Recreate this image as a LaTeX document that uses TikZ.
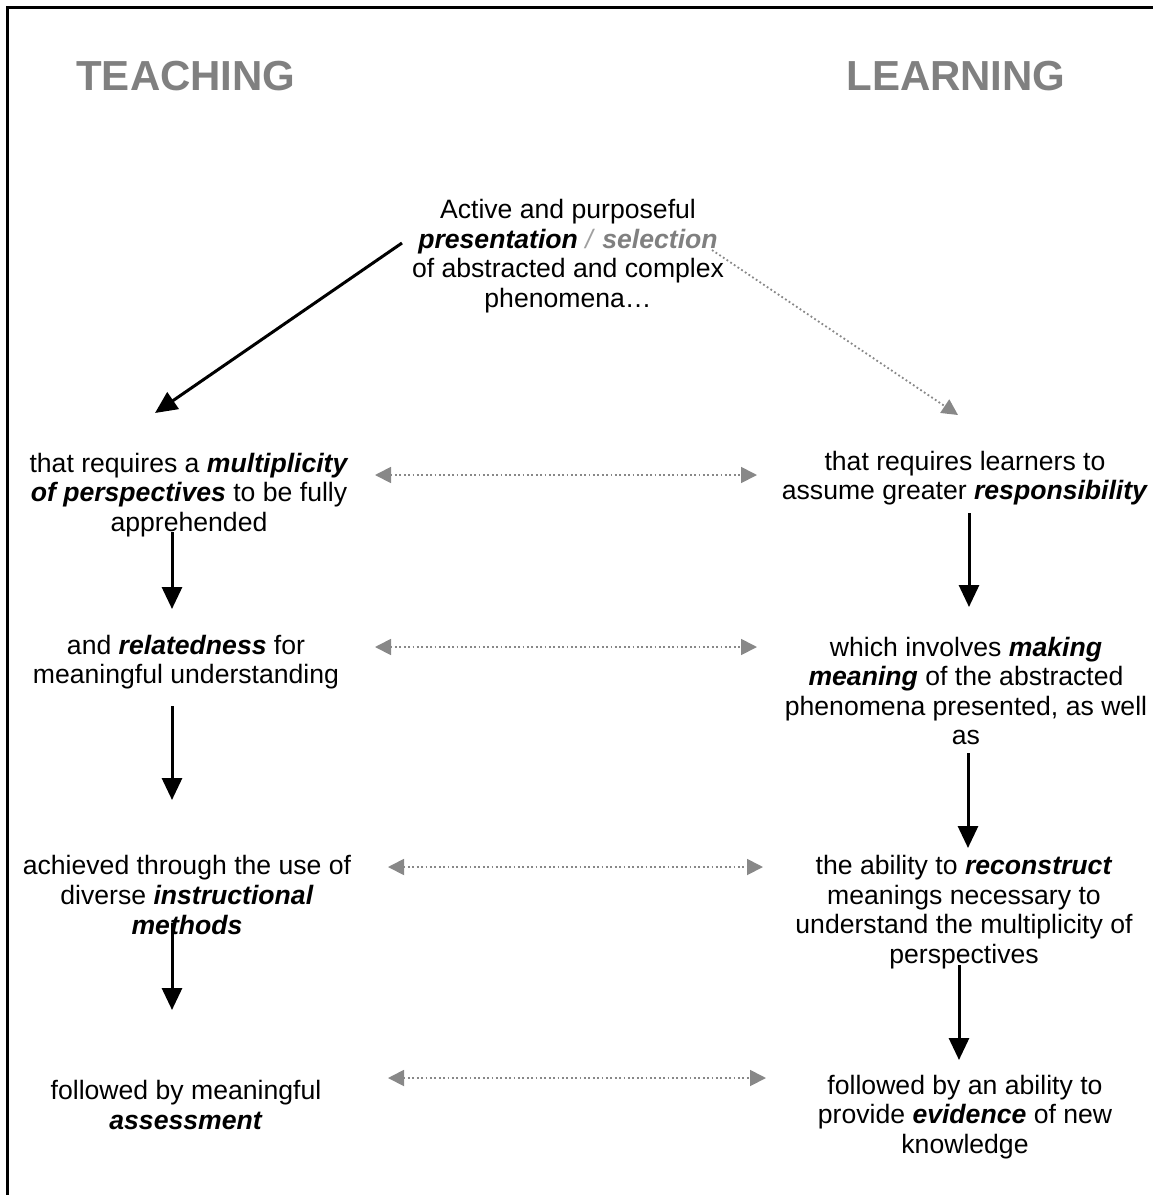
\documentclass[tikz,border=0pt]{standalone}
\usepackage{fontspec}
\setmainfont{Liberation Sans}
\usetikzlibrary{arrows.meta}
\definecolor{hgray}{HTML}{808080}
\definecolor{sgray}{HTML}{A0A0A0}
\definecolor{agray}{HTML}{888888}
\newcommand{\bi}[1]{\textbf{\textit{#1}}}
\begin{document}
\begin{tikzpicture}[x=0.5pt,y=-0.5pt,
 txt/.style={align=center, font=\fontsize{13.3}{14.8}\selectfont, inner sep=0pt},
 head/.style={font=\bfseries\fontsize{21}{24}\selectfont, text=hgray, inner sep=0pt},
 mainarrow/.style={line width=1.5pt, -{Triangle[length=11pt,width=10pt]}},
 linkline/.style={agray, line width=0.9pt, dash pattern=on 0.9pt off 1.3pt},
 linkarrow/.style={linkline, {Triangle[length=8pt,width=8pt]}-{Triangle[length=8pt,width=8pt]}},
 onearrow/.style={linkline, -{Triangle[length=8pt,width=8pt]}}
]
\useasboundingbox (0,0) rectangle (1153,1195);
\draw[line width=1.5pt] (7,1195) -- (7,7) -- (1153,7);

\node[head] (teach) at (186,76) {TEACHING};
\node[head] (learn) at (956,76) {LEARNING};

\node[txt] (top) at (568,256) {Active and purposeful\\ \bi{presentation} \textcolor{sgray}{\textit{/}} \textcolor{hgray}{\bi{selection}}\\ of abstracted and complex\\ phenomena…};

\node[txt] (l1) at (189,495) {that requires a \bi{multiplicity}\\ \bi{of perspectives} to be fully\\ apprehended};
\node[txt] (l2) at (186,662) {and \bi{relatedness} for\\ meaningful understanding};
\node[txt] (l3) at (187,895) {achieved through the use of\\ diverse \bi{instructional}\\ \bi{methods}};
\node[txt] (l4) at (186,1105) {followed by meaningful\\ \bi{assessment}};

\node[txt] (r1) at (965,478) {that requires learners to\\ assume greater \bi{responsibility}};
\node[txt] (r2) at (966,691) {which involves \bi{making}\\ \bi{meaning} of the abstracted\\ phenomena presented, as well\\ as};
\node[txt] (r3) at (964,912) {the ability to \bi{reconstruct}\\ meanings necessary to\\ understand the multiplicity of\\ perspectives};
\node[txt] (r4) at (965,1117) {followed by an ability to\\ provide \bi{evidence} of new\\ knowledge};

% arrow end points
\coordinate (dA) at (402,243); \coordinate (dB) at (155,413);
\coordinate (gA) at (712,250); \coordinate (gB) at (958,415);
\coordinate (h1a) at (375,475); \coordinate (h1b) at (757,475);
\coordinate (h2a) at (375,647); \coordinate (h2b) at (757,647);
\coordinate (h3a) at (388,867); \coordinate (h3b) at (763,867);
\coordinate (h4a) at (388,1078); \coordinate (h4b) at (766,1078);
\coordinate (v1a) at (172,532); \coordinate (v1b) at (172,609);
\coordinate (v2a) at (172,706); \coordinate (v2b) at (172,800);
\coordinate (v3a) at (172,923); \coordinate (v3b) at (172,1010);
\coordinate (w1a) at (969,513); \coordinate (w1b) at (969,607);
\coordinate (w2a) at (968,753); \coordinate (w2b) at (968,848);
\coordinate (w3a) at (959,965); \coordinate (w3b) at (959,1060);

\draw[mainarrow] (dA) -- (dB);
\draw[onearrow] (gA) -- (gB);
\draw[linkarrow] (h1a) -- (h1b);
\draw[linkarrow] (h2a) -- (h2b);
\draw[linkarrow] (h3a) -- (h3b);
\draw[linkarrow] (h4a) -- (h4b);
\draw[mainarrow] (v1a) -- (v1b);
\draw[mainarrow] (v2a) -- (v2b);
\draw[mainarrow] (v3a) -- (v3b);
\draw[mainarrow] (w1a) -- (w1b);
\draw[mainarrow] (w2a) -- (w2b);
\draw[mainarrow] (w3a) -- (w3b);
\end{tikzpicture}
\end{document}
